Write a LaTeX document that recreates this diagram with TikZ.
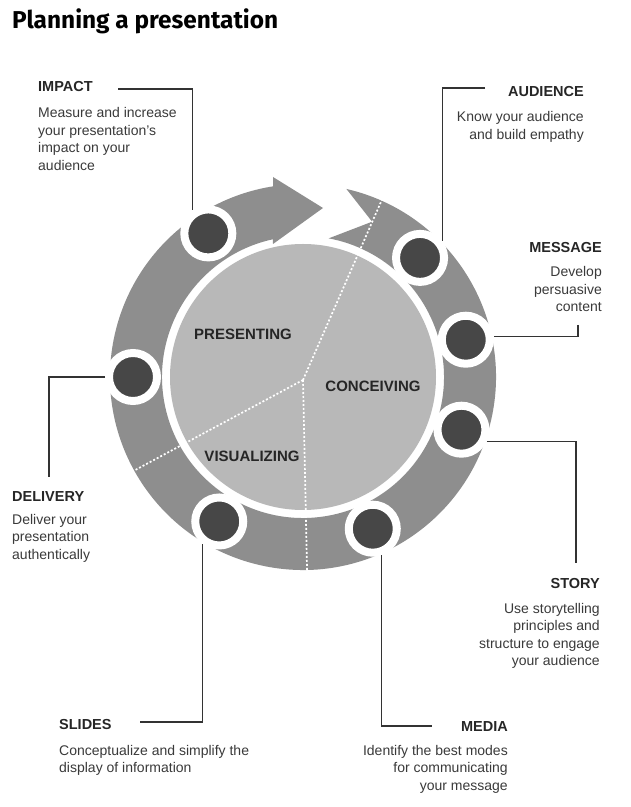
\documentclass[tikz,border=0pt]{standalone}
\usepackage{fontspec}
\setmainfont{Liberation Sans}
\newfontfamily\titlefont{Fira Sans}
\usetikzlibrary{calc}
\definecolor{ringgray}{HTML}{8E8E8E}
\definecolor{hubgray}{HTML}{B8B8B8}
\definecolor{dotgray}{HTML}{474747}
\definecolor{inkgray}{HTML}{333333}
\definecolor{bodygray}{HTML}{3A3A3A}
% fixed first-line height, so a caption's top sits 12pt above its first baseline
\newcommand{\firstline}{\rule{0pt}{12pt}}
\begin{document}
\begin{tikzpicture}[x=1pt,y=1pt,
  stage/.style={circle,fill=dotgray,draw=white,line width=8pt,minimum size=48pt,inner sep=0pt},
  heading/.style={inner sep=0pt,font=\fontsize{14.5}{17}\selectfont\bfseries,text=black!85},
  blurb/.style={inner sep=0pt,font=\fontsize{14}{17.5}\selectfont,text=bodygray},
  phase/.style={inner sep=0pt,font=\fontsize{15}{18}\selectfont\bfseries,text=black!85},
  leader/.style={draw=inkgray,line width=1.1pt},
  divider/.style={draw=white,line width=1.7pt,dash pattern=on 2pt off 2pt}]

% page area
\path[use as bounding box,fill=white] (0,0) rectangle (631,807);

% title
\node[anchor=base west,inner sep=0pt,font=\titlefont\fontsize{24.4}{28}\selectfont\bfseries]
  (title) at (12,778) {Planning a presentation};

% cycle: arrow ring, hub and stage markers
\coordinate (C) at (303,430);
\begin{scope}[shift={(C)}]
  \fill[ringgray] (77:193) arc[start angle=77,end angle=-261.1,radius=193]
    -- (-30,200) -- (20,169) -- (-30,133)
    -- (-257.7:141) arc[start angle=-257.7,end angle=79.5,radius=141]
    -- (66:170) -- cycle;
  \fill[hubgray] (0,0) circle[radius=133];

  \coordinate (hub) at (0,-3);
  \coordinate (d1) at (66:194);
  \coordinate (d2) at (209:193);
  \coordinate (d3) at (-88.8:193);
  \draw[divider] (hub) -- (d1);
  \draw[divider] (hub) -- (d2);
  \draw[divider] (hub) -- (d3);

  \node[stage] (impactdot)   at (123.4:172) {};
  \node[stage] (audiencedot) at (45.5:167) {};
  \node[stage] (messagedot)  at (12.9:167) {};
  \node[stage] (storydot)    at (-18.4:167) {};
  \node[stage] (mediadot)    at (-65.3:167) {};
  \node[stage] (slidesdot)   at (-120.1:167) {};
  \node[stage] (deliverydot) at (180:170) {};
\end{scope}

% phase names
\node[phase] (presenting) at (243,473) {PRESENTING};
\node[phase] (conceiving) at (373,421) {CONCEIVING};
\node[phase] (visualizing) at (252,351) {VISUALIZING};

% stage captions (blurb nodes are placed by their top edge: first baseline + 12)
\node[heading,anchor=base west] (impact) at (38,715) {IMPACT};
\node[blurb,anchor=north west,align=left] (impacttext) at (38,701.3)
  {\firstline Measure and increase\\your presentation’s\\impact on your\\audience};

\node[heading,anchor=base east] (audience) at (584,710) {AUDIENCE};
\node[blurb,anchor=north east,align=right] (audiencetext) at (584,697.3)
  {\firstline Know your audience\\and build empathy};

\node[heading,anchor=base east] (message) at (602,554) {MESSAGE};
\node[blurb,anchor=north east,align=right] (messagetext) at (602,542.3)
  {\firstline Develop\\persuasive\\content};

\node[heading,anchor=base east] (story) at (600,218) {STORY};
\node[blurb,anchor=north east,align=right] (storytext) at (600,206)
  {\firstline Use storytelling\\principles and\\structure to engage\\your audience};

\node[heading,anchor=base east] (media) at (508,75) {MEDIA};
\node[blurb,anchor=north east,align=right] (mediatext) at (508,64)
  {\firstline Identify the best modes\\for communicating\\your message};

\node[heading,anchor=base west] (slides) at (59,77) {SLIDES};
\node[blurb,anchor=north west,align=left] (slidestext) at (59,64)
  {\firstline Conceptualize and simplify the\\display of information};

\node[heading,anchor=base west] (delivery) at (12,305) {DELIVERY};
\node[blurb,anchor=north west,align=left] (deliverytext) at (12,295)
  {\firstline Deliver your\\presentation\\authentically};

% leader lines
\coordinate (impactL) at (118,718);
\coordinate (audienceL) at (485,719);
\coordinate (messageL) at (578,482);
\coordinate (storyL) at (576,244);
\coordinate (mediaL) at (432,81);
\coordinate (slidesL) at (140,85);
\coordinate (deliveryL) at (49,330);

\draw[leader] (impactL) -| (impactdot.125);
\draw[leader] (audienceL) -| (audiencedot.38);
\draw[leader] (messageL) |- (messagedot.6);
\draw[leader] (storydot.-25) -| (storyL);
\draw[leader] (mediadot.-71) |- (mediaL);
\draw[leader] (slidesL) -| (slidesdot.-127);
\draw[leader] (deliverydot.180) -| (deliveryL);
\end{tikzpicture}
\end{document}
